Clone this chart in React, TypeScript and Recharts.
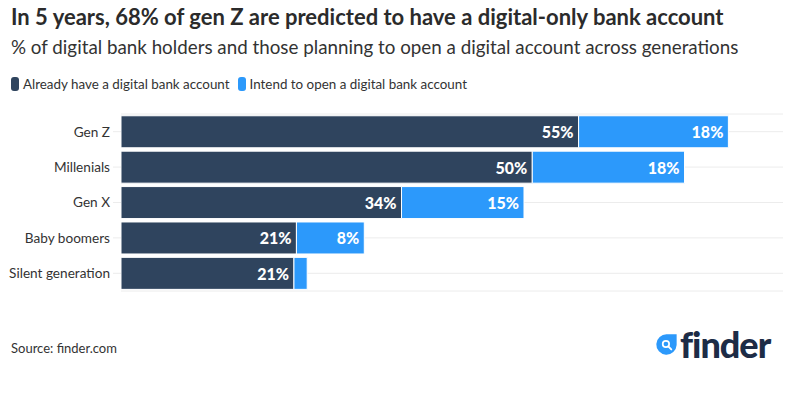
import React from "react";
import { BarChart, Bar, XAxis, YAxis, CartesianGrid, LabelList } from "recharts";

const generations = ["Gen Z", "Millenials", "Gen X", "Baby boomers", "Silent generation"];
const alreadyHave = [55.3, 49.7, 33.9, 21.2, 20.9];
const intendToOpen = [18.1, 18.4, 14.8, 8.2, 1.6];

const DARK = "#2f445e";
const BLUE = "#2c99fb";
const FONT = "Lato, 'Open Sans', sans-serif";

const chartData = generations.map((name, i) => ({
  name,
  already: alreadyHave[i],
  intend: intendToOpen[i],
}));

// white value label with an outline in the bar colour, pinned to the right end of the segment
const makeLabel = (outline: string) => (props: any) => {
  const { x, y, width, height, value } = props;
  if (value < 3) return null;
  return (
    <text
      x={x + width - 5}
      y={y + height / 2}
      textAnchor="end"
      dominantBaseline="central"
      fill="#fff"
      stroke={outline}
      strokeWidth={3}
      strokeLinejoin="round"
      paintOrder="stroke"
      fontFamily={FONT}
      fontWeight={900}
      fontSize={16}
    >
      {Math.round(value)}%
    </text>
  );
};

const LegendItem = ({ color, text }: { color: string; text: string }) => (
  <span style={{ display: "inline-flex", alignItems: "center", marginRight: 8 }}>
    <span style={{ width: 8, height: 14, borderRadius: 3, background: color, marginRight: 4 }} />
    <span>{text}</span>
  </span>
);

export default function App() {
  return (
    <div
      style={{
        position: "absolute",
        left: 0,
        top: 0,
        width: 796,
        height: 395,
        background: "#fff",
        fontFamily: FONT,
        color: "#333",
        overflow: "hidden",
      }}
    >
      <div style={{ position: "absolute", left: 11, top: 3, fontSize: 22, fontWeight: 700, color: "#2b2b2b", whiteSpace: "nowrap" }}>
        In 5 years, 68% of gen Z are predicted to have a digital-only bank account
      </div>
      <div style={{ position: "absolute", left: 11, top: 35, fontSize: 18.8, color: "#333", whiteSpace: "nowrap" }}>
        % of digital bank holders and those planning to open a digital account across generations
      </div>
      <div style={{ position: "absolute", left: 11, top: 76, fontSize: 13.4, color: "#333", whiteSpace: "nowrap", display: "flex" }}>
        <LegendItem color={DARK} text="Already have a digital bank account" />
        <LegendItem color={BLUE} text="Intend to open a digital bank account" />
      </div>

      <div style={{ position: "absolute", left: 0, top: 100 }}>
        <BarChart
          width={796}
          height={200}
          data={chartData}
          layout="vertical"
          margin={{ top: 14, right: 13, bottom: 9, left: 0 }}
          barCategoryGap="5%"
        >
          <CartesianGrid vertical={false} stroke="#ececec" />
          <XAxis type="number" domain={[0, 80]} hide />
          <YAxis
            type="category"
            dataKey="name"
            width={121}
            axisLine={false}
            tickSize={8}
            tickMargin={3}
            tickLine={{ stroke: "#ececec" }}
            tick={{ fill: "#333", fontSize: 13.6, fontFamily: FONT }}
          />
          <Bar dataKey="already" stackId="a" fill={DARK} stroke="#fff" strokeWidth={1} isAnimationActive={false}>
            <LabelList dataKey="already" content={makeLabel(DARK)} />
          </Bar>
          <Bar dataKey="intend" stackId="a" fill={BLUE} stroke="#fff" strokeWidth={1} isAnimationActive={false}>
            <LabelList dataKey="intend" content={makeLabel(BLUE)} />
          </Bar>
        </BarChart>
      </div>

      <div style={{ position: "absolute", left: 11, top: 340, fontSize: 13, color: "#333" }}>Source: finder.com</div>

      <div style={{ position: "absolute", left: 655, top: 324, display: "flex", alignItems: "center" }}>
        <svg width={24} height={30} viewBox="0 0 22 28">
          <path d="M11 5 H20 V15 A9.5 9.5 0 1 1 11 5 Z" fill={BLUE} />
          <circle cx={10} cy={14} r={3} fill="none" stroke="#fff" strokeWidth={1.6} />
          <line x1={12.2} y1={16.2} x2={15} y2={19} stroke="#fff" strokeWidth={1.8} strokeLinecap="round" />
        </svg>
        <span style={{ fontSize: 36, fontWeight: 900, color: "#1d2c46", letterSpacing: -1, marginLeft: 1, lineHeight: "40px" }}>
          finder
        </span>
      </div>
    </div>
  );
}
